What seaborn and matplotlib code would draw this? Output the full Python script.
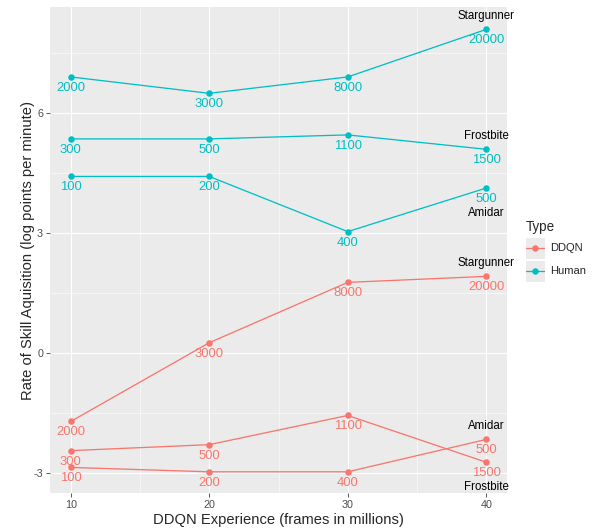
import seaborn as sns
import matplotlib.pyplot as plt
import pandas as pd
from matplotlib.patches import Rectangle
from matplotlib.lines import Line2D

# data
experience = [10, 20, 30, 40]
games = ['Stargunner', 'Frostbite', 'Amidar']

human_rate = {
    'Stargunner': [6.91, 6.50, 6.91, 8.10],
    'Frostbite': [5.36, 5.36, 5.46, 5.10],
    'Amidar': [4.42, 4.42, 3.04, 4.13],
}
ddqn_rate = {
    'Stargunner': [-1.71, 0.26, 1.77, 1.92],
    'Frostbite': [-2.44, -2.29, -1.56, -2.73],
    'Amidar': [-2.86, -2.97, -2.97, -2.16],
}
points = {
    'Stargunner': ['2000', '3000', '8000', '20000'],
    'Frostbite': ['300', '500', '1100', '1500'],
    'Amidar': ['100', '200', '400', '500'],
}
# where the game name goes at x=40: above the point or below the number
name_side = {
    ('Human', 'Stargunner'): 'above', ('Human', 'Frostbite'): 'above', ('Human', 'Amidar'): 'below',
    ('DDQN', 'Stargunner'): 'above', ('DDQN', 'Amidar'): 'above', ('DDQN', 'Frostbite'): 'below',
}

rows = []
for typ, rates in [('DDQN', ddqn_rate), ('Human', human_rate)]:
    for g in games:
        for x, y, p in zip(experience, rates[g], points[g]):
            rows.append({'Type': typ, 'game': g, 'exp': x, 'rate': y, 'pts': p})
df = pd.DataFrame(rows)

palette = {'DDQN': '#F8766D', 'Human': '#00BFC4'}

sns.set_style('darkgrid', {'axes.facecolor': '#EBEBEB', 'grid.color': 'white'})
plt.rcParams['font.family'] = ['Liberation Sans', 'DejaVu Sans']
plt.rcParams['axes.unicode_minus'] = False

fig = plt.figure(figsize=(595 / 72, 529 / 72), dpi=72)
ax = fig.add_axes([50 / 595, 1 - 493 / 529, 457 / 595, 486 / 529])

sns.lineplot(data=df, x='exp', y='rate', hue='Type', units='game', estimator=None,
             palette=palette, marker='o', markersize=6.5, markeredgewidth=0,
             linewidth=1.3, legend=False, ax=ax)

# labels
for _, r in df.iterrows():
    c = palette[r['Type']]
    ax.annotate(r['pts'], (r['exp'], r['rate']), xytext=(0, -11), textcoords='offset points',
                ha='center', va='center', color=c, fontsize=13)
    if r['exp'] == 40:
        side = name_side[(r['Type'], r['game'])]
        dy = 13 if side == 'above' else -25
        ax.annotate(r['game'], (r['exp'], r['rate']), xytext=(0, dy), textcoords='offset points',
                    ha='center', va='center', color='black', fontsize=11.5)

ax.set_xlim(8.5, 41.5)
ax.set_ylim(-3.50, 8.66)
ax.set_xticks(experience)
ax.set_yticks([-3, 0, 3, 6])
ax.set_xticks([15, 25, 35], minor=True)
ax.set_yticks([-1.5, 1.5, 4.5, 7.5], minor=True)
ax.grid(which='major', color='white', linewidth=1.1)
ax.grid(which='minor', color='white', linewidth=0.5)
ax.tick_params(which='major', length=4, width=0.8, color='#333333', labelcolor='#4D4D4D',
               labelsize=10.8, pad=3, bottom=True, left=True)
ax.tick_params(which='minor', length=0)
for s in ax.spines.values():
    s.set_visible(False)
ax.set_xlabel('DDQN Experience (frames in millions)', fontsize=14.7, labelpad=3)
ax.set_ylabel('Rate of Skill Aquisition (log points per minute)', fontsize=14.7)
ax.yaxis.set_label_coords(-0.033, 0.5)

# legend drawn by hand, ggplot style
def fx(px):
    return px / 595

def fy(py):
    return 1 - py / 529

fig.text(fx(526), fy(227), 'Type', fontsize=13.5, va='center', ha='left')
for i, typ in enumerate(['DDQN', 'Human']):
    cy = 248 + i * 23
    fig.patches.append(Rectangle((fx(525), fy(cy + 11)), 20 / 595, 22 / 529,
                                 transform=fig.transFigure, facecolor='#EBEBEB',
                                 edgecolor='white', linewidth=1, zorder=1))
    fig.lines.append(Line2D([fx(526), fx(544)], [fy(cy), fy(cy)], transform=fig.transFigure,
                            color=palette[typ], linewidth=1.3, zorder=2))
    fig.lines.append(Line2D([fx(535)], [fy(cy)], transform=fig.transFigure, marker='o',
                            markersize=6.5, markeredgewidth=0, color=palette[typ], zorder=3))
    fig.text(fx(550), fy(cy), typ, fontsize=11.1, va='center', ha='left')

fig.savefig('out.png', dpi=72)
